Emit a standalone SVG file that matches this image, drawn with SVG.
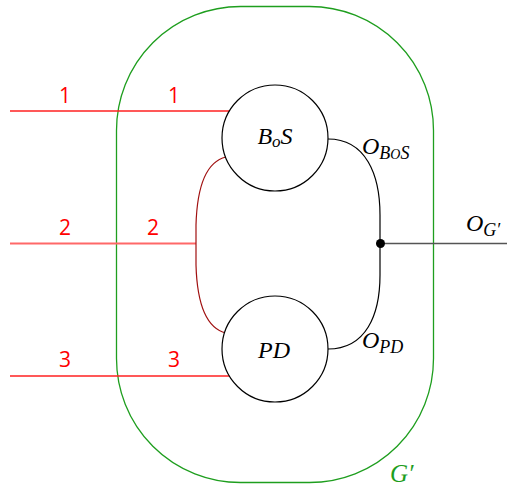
<svg xmlns="http://www.w3.org/2000/svg" width="507" height="487" viewBox="0 0 507 487">
<style>
.node{fill:#fff;stroke:#000;stroke-width:1.2}
.math{font-family:"Liberation Serif","DejaVu Serif",serif;font-style:italic;fill:#000}
.num{font-family:"Open Sans","DejaVu Sans",sans-serif;font-size:21px;fill:#ff0000;text-anchor:middle}
.red{stroke:#ff2020;stroke-width:1.3;fill:none}
</style>
<rect width="507" height="487" fill="#fff"/>
<g id="boundary">
<rect x="116.5" y="6.5" width="317" height="476" rx="124" ry="124" fill="none" stroke="#1e9e1e" stroke-width="1.3"/>
<text class="math" x="390" y="482" font-size="25" style="fill:#1e9e1e">G′</text>
</g>
<g id="connectors">
<line class="red" x1="10" y1="111" x2="230" y2="111"/>
<line x1="10" y1="243.5" x2="196" y2="243.5" stroke="#ff6868" stroke-width="1.8"/>
<line class="red" x1="10" y1="376" x2="230" y2="376"/>
<path d="M229,157 L226,157 C205,162 197,190 196,225 L196,265 C197,300 205,328 226,333 L229,333" fill="none" stroke="#a01010" stroke-width="1.2"/>
<path d="M328,139 C366,139 380,175 380,215 L380,275 C380,315 366,349 328,349" fill="none" stroke="#000" stroke-width="1.2"/>
<line x1="380.5" y1="243.5" x2="507" y2="243.5" stroke="#555" stroke-width="1.6"/>
<circle cx="380.5" cy="243.5" r="4.5" fill="#000"/>
<text class="num" x="65" y="103">1</text>
<text class="num" x="174" y="103">1</text>
<text class="num" x="65" y="235">2</text>
<text class="num" x="153" y="235">2</text>
<text class="num" x="65" y="367">3</text>
<text class="num" x="174" y="367">3</text>
<text class="math" x="362" y="154" font-size="24">O<tspan font-size="18" dy="5">B<tspan font-size="14">O</tspan>S</tspan></text>
<text class="math" x="362" y="348" font-size="24">O<tspan font-size="18" dy="5">PD</tspan></text>
<text class="math" x="466" y="231" font-size="24">O<tspan font-size="18" dy="5">G′</tspan></text>
</g>
<g id="BoS">
<circle class="node" cx="275" cy="138" r="53"/>
<text class="math" x="275" y="144" font-size="24" text-anchor="middle">B<tspan font-size="17" dy="3">o</tspan><tspan dy="-3">S</tspan></text>
</g>
<g id="PD">
<circle class="node" cx="275" cy="349" r="53"/>
<text class="math" x="274" y="358" font-size="24" text-anchor="middle">PD</text>
</g>
</svg>
